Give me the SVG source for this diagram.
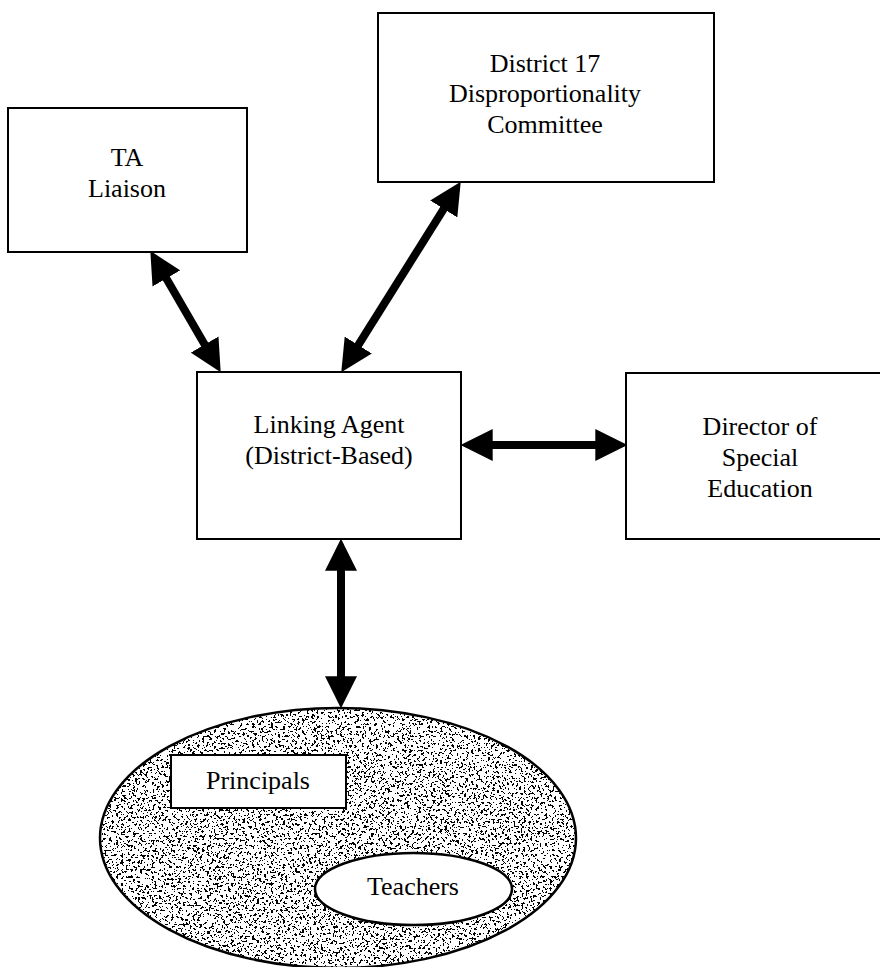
<svg xmlns="http://www.w3.org/2000/svg" width="880" height="967" viewBox="0 0 880 967">
  <style>
    .box { fill: #fff; stroke: #000; stroke-width: 2; }
    .lbl { font-family: "Liberation Serif", "Times New Roman", serif; font-size: 26px; fill: #000; text-anchor: middle; }
    .link { stroke: #000; stroke-width: 8; fill: none; marker-start: url(#head); marker-end: url(#head); }
  </style>
  <defs>
    <!-- solid triangular arrowhead; tip sits 20px beyond the line end -->
    <marker id="head" markerUnits="userSpaceOnUse" markerWidth="32" markerHeight="32" viewBox="0 0 30 30" refX="10" refY="15" orient="auto-start-reverse">
      <path d="M0,0 L30,15 L0,30 Z" fill="#000"/>
    </marker>
    <!-- speckled grey fill for the school-staff oval -->
    <filter id="stipple" x="0" y="0" width="100%" height="100%">
      <feTurbulence type="fractalNoise" baseFrequency="0.42" numOctaves="3" seed="7" result="noise"/>
      <feColorMatrix in="noise" type="matrix" values="0 0 0 0 0  0 0 0 0 0  0 0 0 0 0  1 0 0 0 0" result="alpha"/>
      <feComponentTransfer in="alpha" result="dots">
        <feFuncA type="discrete" tableValues="0 0 0 0 0 0 0 0 0 0 0 0 1 1 1 1 1 1 1 1"/>
      </feComponentTransfer>
      <feComposite in="dots" in2="SourceGraphic" operator="in"/>
    </filter>
  </defs>

  <rect width="880" height="967" fill="#fff"/>

  <g id="connectors">
    <line class="link" x1="161" y1="269.3" x2="210" y2="353.7"/>
    <line class="link" x1="449.4" y1="199.9" x2="352.6" y2="354.1"/>
    <line class="link" x1="482" y1="445" x2="606" y2="445"/>
    <line class="link" x1="341" y1="560" x2="341" y2="687"/>
  </g>

  <g id="ta-liaison">
    <rect class="box" x="8" y="108" width="239" height="144"/>
    <text class="lbl" x="127" y="166">TA</text>
    <text class="lbl" x="127" y="197">Liaison</text>
  </g>

  <g id="district-committee">
    <rect class="box" x="378" y="13" width="336" height="169"/>
    <text class="lbl" x="545" y="72">District 17</text>
    <text class="lbl" x="545" y="102">Disproportionality</text>
    <text class="lbl" x="545" y="133">Committee</text>
  </g>

  <g id="linking-agent">
    <rect class="box" x="197" y="372" width="264" height="167"/>
    <text class="lbl" x="329" y="433">Linking Agent</text>
    <text class="lbl" x="329" y="464">(District-Based)</text>
  </g>

  <g id="director">
    <rect class="box" x="626" y="373" width="268" height="166"/>
    <text class="lbl" x="760" y="435">Director of</text>
    <text class="lbl" x="760" y="466">Special</text>
    <text class="lbl" x="760" y="497">Education</text>
  </g>

  <g id="school-staff">
    <ellipse cx="338" cy="838" rx="238" ry="130" fill="#fff"/>
    <ellipse cx="338" cy="838" rx="238" ry="130" fill="#000" filter="url(#stipple)"/>
    <ellipse cx="338" cy="838" rx="238" ry="130" fill="none" stroke="#000" stroke-width="2.5"/>
  </g>

  <g id="principals">
    <rect class="box" x="171" y="755" width="175" height="53" stroke-width="2.5"/>
    <text class="lbl" x="258" y="789">Principals</text>
  </g>

  <g id="teachers">
    <ellipse cx="413.5" cy="889" rx="98.5" ry="36" fill="#fff" stroke="#000" stroke-width="2.5"/>
    <text class="lbl" x="413" y="895">Teachers</text>
  </g>
</svg>
